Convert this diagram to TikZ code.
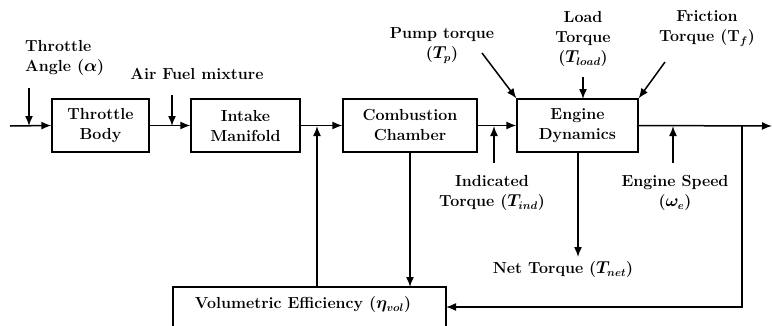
\documentclass[tikz,border=0pt]{standalone}
\usepackage{amsmath,bm}
\usetikzlibrary{arrows.meta}
\begin{document}
\begin{tikzpicture}[x=1pt,y=-1pt,
  txt/.style={inner sep=0pt,align=center,font=\fontsize{16}{20}\selectfont\bfseries\boldmath},
  blk/.style={draw,line width=1.2pt,inner sep=0pt,minimum height=53pt,align=center,font=\fontsize{16}{20}\selectfont\bfseries\boldmath},
  conn/.style={line width=1.5pt},
  arr/.style={conn,-{Latex[length=10pt,width=8pt]}}]
\useasboundingbox (0,0) rectangle (772,325);
% blocks
\node[blk,minimum width=97pt] (tb) at (100.5,125.5) {Throttle\\Body};
\node[blk,minimum width=109pt] (im) at (245.5,125.5) {Intake\\Manifold};
\node[blk,minimum width=134pt] (cc) at (410,125.5) {Combustion\\Chamber};
\node[blk,minimum width=121pt] (ed) at (577.5,125.5) {Engine\\Dynamics};
\node[blk,minimum width=273pt,minimum height=48pt] (ve) at (309.5,311) {};
\node[txt] (vet) at (303,305) {Volumetric Efficiency ($\eta_{vol}$)};
% labels
\node[txt,align=left,anchor=west] (tal) at (25,57.5) {Throttle\\Angle ($\alpha$)};
\node[txt] (afl) at (197,74) {Air Fuel mixture};
\node[txt] (ptl) at (442,45.5) {Pump torque\\($T_p$)};
\node[txt] (ltl) at (583,39) {Load\\Torque\\($T_{load}$)};
\node[txt] (ftl) at (707,28.5) {Friction\\Torque (T$_f$)};
\node[txt] (itl) at (492,193) {Indicated\\Torque ($T_{ind}$)};
\node[txt] (esl) at (675,193) {Engine Speed\\($\omega_e$)};
\node[txt] (ntl) at (563,270) {Net Torque ($T_{net}$)};
% coordinates
\coordinate (in0) at (10,126);
\coordinate (ta0) at (29,88);
\coordinate (ta1) at (29,126);
\coordinate (af0) at (172,95);
\coordinate (af1) at (172,126);
\coordinate (j1) at (317,126);
\coordinate (ve1) at (317,287);
\coordinate (it0) at (494,163);
\coordinate (it1) at (494,126);
\coordinate (cc1) at (410,152);
\coordinate (ve2) at (410,287);
\coordinate (ed1) at (578,152);
\coordinate (nt1) at (578,257);
\coordinate (out) at (772,126);
\coordinate (es0) at (673,163);
\coordinate (es1) at (673,126);
\coordinate (fb0) at (742,126);
\coordinate (fb1) at (742,307);
\coordinate (ve3) at (446,307);
\coordinate (pt0) at (482,53);
\coordinate (lt0) at (583,77);
\coordinate (lt1) at (583,99);
\coordinate (ft0) at (665,62);
% connectors
\draw[arr] (in0) -- (tb.west);
\draw[arr] (ta0) -- (ta1);
\draw[arr] (tb.east) -- (im.west);
\draw[arr] (af0) -- (af1);
\draw[arr] (im.east) -- (cc.west);
\draw[arr] (ve1) -- (j1);
\draw[arr] (cc.east) -- (ed.west);
\draw[arr] (it0) -- (it1);
\draw[arr] (cc1) -- (ve2);
\draw[arr] (ed1) -- (nt1);
\draw[arr] (ed.east) -- (out);
\draw[arr] (es0) -- (es1);
\draw[arr] (fb0) -- (fb1) -- (ve3);
\draw[arr] (pt0) -- (ed.north west);
\draw[arr] (lt0) -- (lt1);
\draw[arr] (ft0) -- (ed.north east);
\end{tikzpicture}
\end{document}
